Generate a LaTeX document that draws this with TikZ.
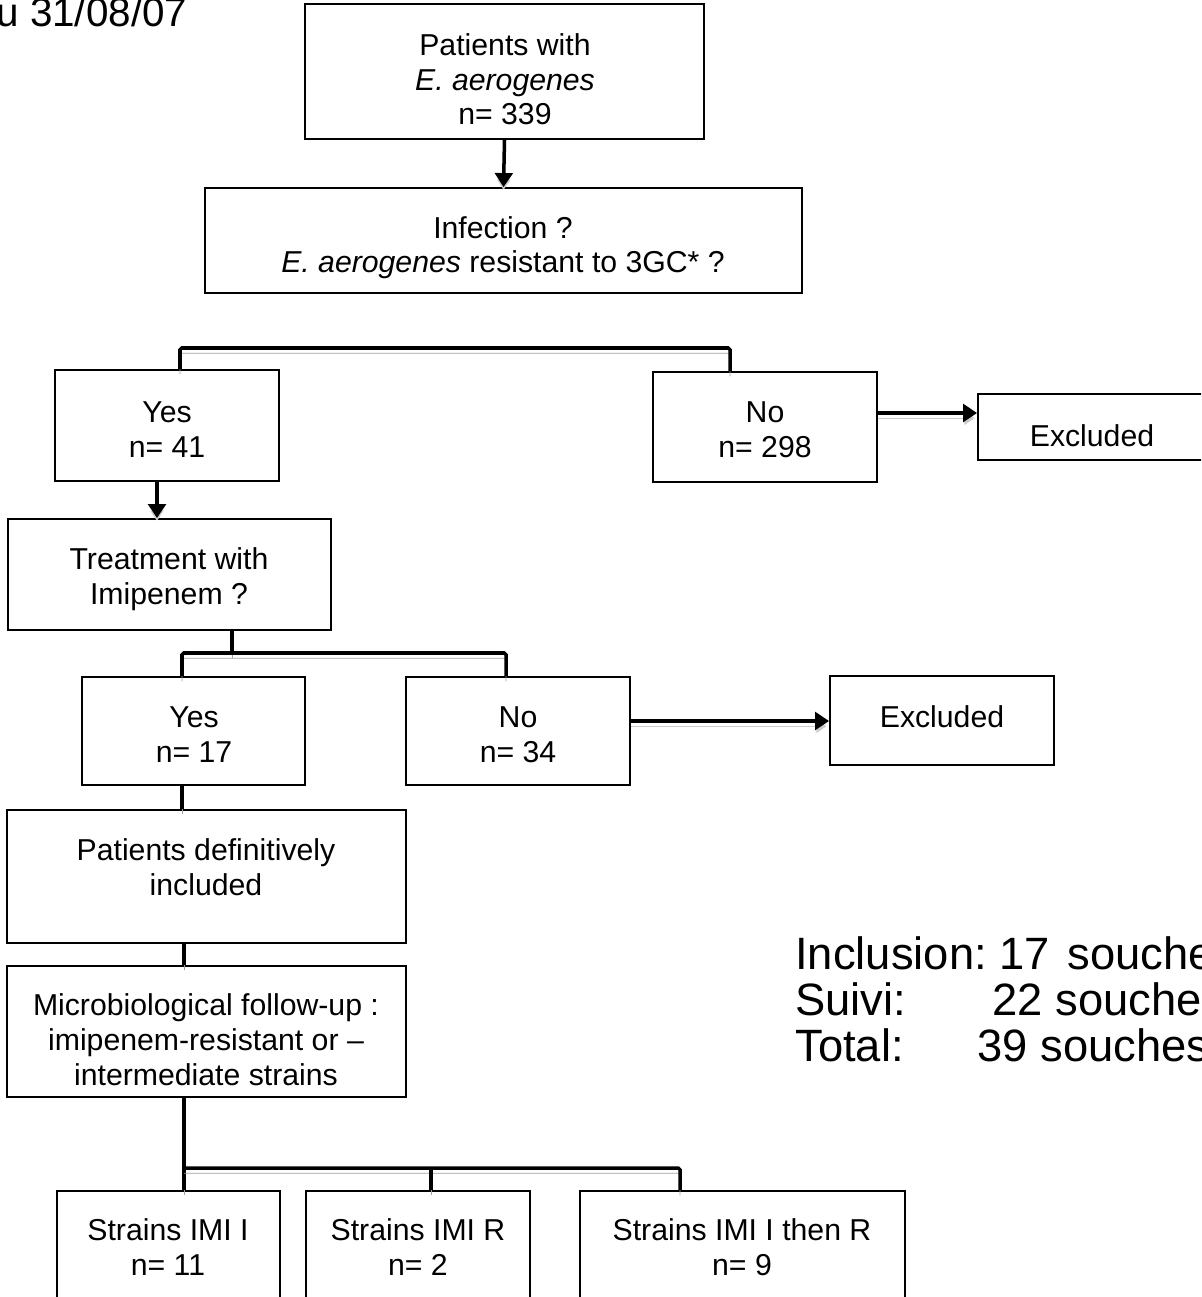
\documentclass[tikz,border=0pt]{standalone}
\usepackage{fontspec}
\setmainfont{Liberation Sans}
\usetikzlibrary{arrows.meta,fit}
\begin{document}
\begin{tikzpicture}[x=0.02cm,y=-0.02cm,
  box/.style={draw=black, line width=1pt, inner sep=0pt},
  txt/.style={font=\fontsize{17.2}{19.8}\selectfont, align=center, inner sep=0pt, anchor=base},
  big/.style={font=\fontsize{25.8}{30}\selectfont, inner sep=0pt, anchor=base west},
  conn/.style={line width=2pt, preaction={draw=gray!75, transform canvas={yshift=-3pt}}},
  arr/.style={line width=2pt, -{Triangle[length=8pt,width=10pt]}, preaction={draw=gray!40, transform canvas={yshift=-3pt}}},
]
\useasboundingbox (0,0) rectangle (1201,1297);
\clip (0,0) rectangle (1201,1297);

% boxes
\node[box, fit={(305,4) (704,139)}] (b1) {};
\node[box, fit={(205,188) (802,293)}] (b2) {};
\node[box, fit={(55,370) (279,481)}] (yes1) {};
\node[box, fit={(653,372) (877,482)}] (no1) {};
\node[box, fit={(978,394) (1215,460)}] (exc1) {};
\node[box, fit={(8,519) (331,630)}] (treat) {};
\node[box, fit={(82,677) (305,785)}] (yes2) {};
\node[box, fit={(406,677) (630,785)}] (no2) {};
\node[box, fit={(830,676) (1054,765)}] (exc2) {};
\node[box, fit={(7,810) (406,943)}] (incl) {};
\node[box, fit={(7,966) (406,1097)}] (micro) {};
\node[box, fit={(57,1191) (280,1315)}] (sA) {};
\node[box, fit={(306,1191) (530,1315)}] (sB) {};
\node[box, fit={(580,1191) (905,1315)}] (sC) {};

% texts (anchor = baseline of the last line)
\node[txt] (t1) at (505,125) {Patients with\\\textit{E. aerogenes}\\n= 339};
\node[txt] (t2) at (503,273) {Infection ?\\\textit{E. aerogenes} resistant to 3GC* ?};
\node[txt] (t3) at (167,457) {Yes\\n= 41};
\node[txt] (t4) at (765,457) {No\\n= 298};
\node[txt] (t5) at (1092,446) {Excluded};
\node[txt] (t6) at (169,604) {Treatment with\\Imipenem ?};
\node[txt] (t7) at (194,762) {Yes\\n= 17};
\node[txt] (t8) at (518,762) {No\\n= 34};
\node[txt] (t9) at (942,727) {Excluded};
\node[txt] (t10) at (206,895) {Patients definitively\\included};
\node[txt] (t11) at (206,1085) {Microbiological follow-up :\\imipenem-resistant or --\\intermediate strains};
\node[txt] (t12) at (168,1275) {Strains IMI I\\n= 11};
\node[txt] (t13) at (418,1275) {Strains IMI R\\n= 2};
\node[txt] (t14) at (742,1275) {Strains IMI I then R\\n= 9};

\node[big, font=\fontsize{23}{27}\selectfont] (date) at (-4,27) {u 31/08/07};
\node[big] (s1) at (795,969) {Inclusion:\hspace{7.2pt}17\hspace{10pt}souches};
\node[big] (s2) at (795,1015) {Suivi:\hspace{49.3pt}22 souches};
\node[big] (s3) at (795,1061) {Total:\hspace{42pt}39 souches};

% connectors
\draw[arr] (b1.south) -- (b2.north);
\draw[conn, rounded corners=1pt] (180,0 |- yes1.north) -- (180,348) -- (730,348) -- (730,0 |- no1.north);
\draw[arr] (no1.east |- 0,413) -- (exc1.west |- 0,413);
\draw[arr] (157,0 |- yes1.south) -- (157,0 |- treat.north);
\draw[conn] (232,0 |- treat.south) -- (232,653);
\draw[conn, rounded corners=1pt] (182,0 |- yes2.north) -- (182,653) -- (506,653) -- (506,0 |- no2.north);
\draw[arr] (no2.east |- 0,721) -- (exc2.west |- 0,721);
\draw[conn] (182,0 |- yes2.south) -- (182,0 |- incl.north);
\draw[conn] (184,0 |- incl.south) -- (184,0 |- micro.north);
\draw[conn] (184,0 |- micro.south) -- (184,0 |- sA.north);
\draw[conn, rounded corners=1pt] (184,1168) -- (680,1168) -- (680,0 |- sC.north);
\draw[conn] (431,1168) -- (431,0 |- sB.north);
\end{tikzpicture}
\end{document}
